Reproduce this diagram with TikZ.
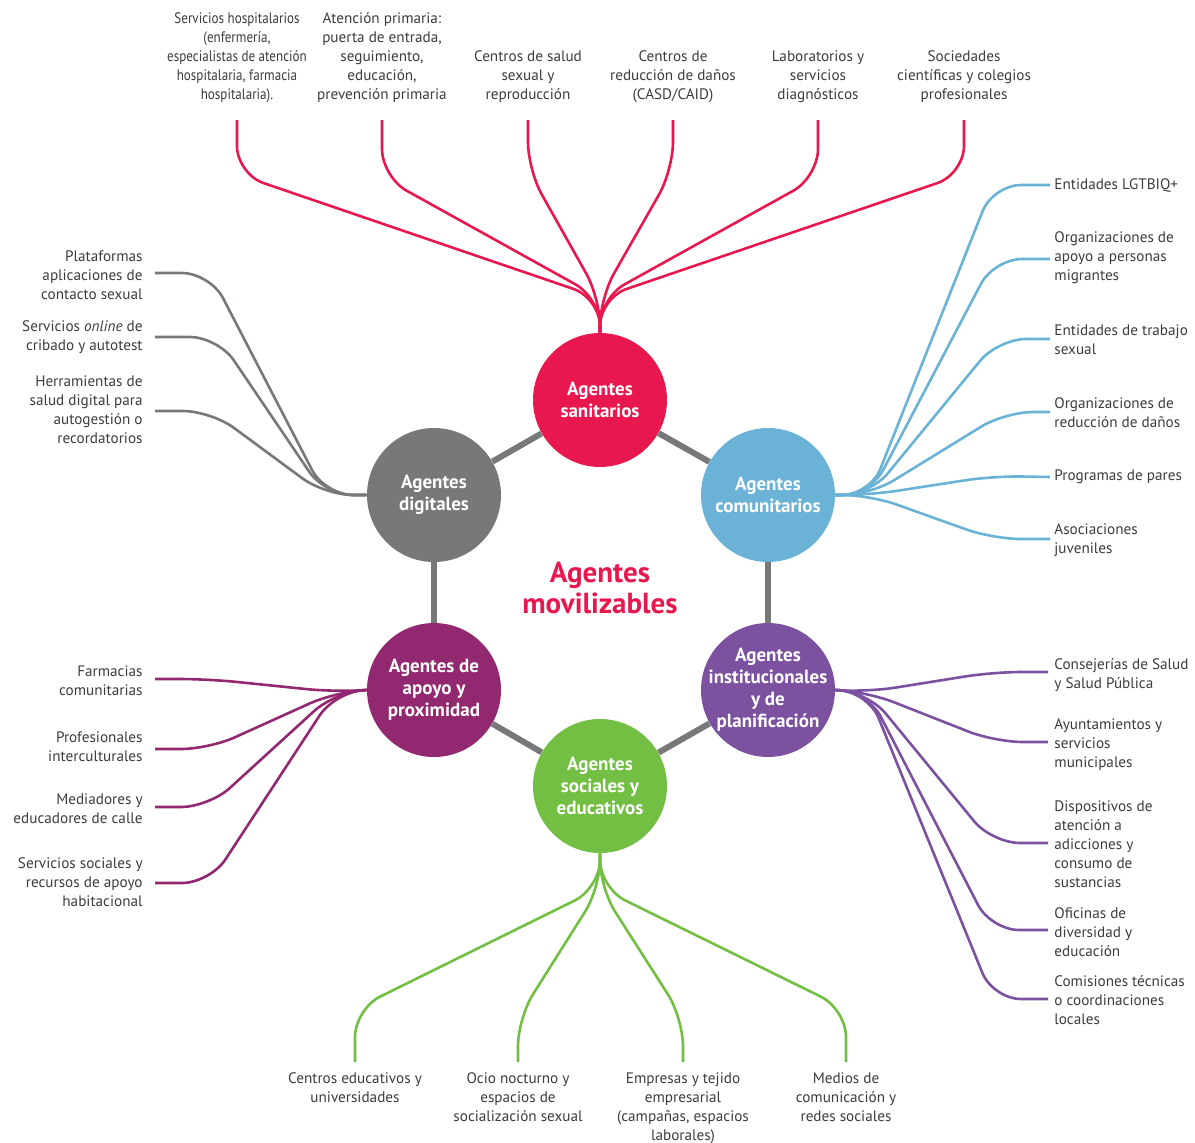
\documentclass[tikz,border=0pt]{standalone}
\usepackage{fontspec}
\setmainfont{PT Sans}
\newfontfamily\narrowfont[FakeStretch=0.86]{PT Sans}
\usetikzlibrary{positioning}
\definecolor{sanred}{HTML}{E8184F}
\definecolor{diggray}{HTML}{76787A}
\definecolor{comblue}{HTML}{6BB3D6}
\definecolor{apomag}{HTML}{92286F}
\definecolor{insviolet}{HTML}{7B51A0}
\definecolor{socgreen}{HTML}{72BF44}
\definecolor{leafgray}{HTML}{3C3C3C}
\tikzset{
  agent/.style={circle,minimum size=67pt,inner sep=-10pt,text=white,align=center,
    font=\fontsize{9.5}{11}\selectfont\bfseries},
  hexline/.style={line width=3pt,diggray},
  branch/.style={line width=1.3pt,rounded corners=14pt},
  leaf/.style={text=leafgray,inner sep=2pt,font=\fontsize{7.6}{9.5}\selectfont},
  leafT/.style={leaf,anchor=south,align=center},
  leafB/.style={leaf,anchor=north,align=center},
  leafL/.style={leaf,anchor=east,align=right},
  leafR/.style={leaf,anchor=west,align=left},
}
\begin{document}
\begin{tikzpicture}[x=0.5pt,y=-0.5pt]
\useasboundingbox (0,0) rectangle (1195,1142);
% agents
\node[agent,fill=sanred] (san) at (600,400) {Agentes\\sanitarios};
\node[agent,fill=diggray] (dig) at (434,495) {Agentes\\digitales};
\node[agent,fill=comblue] (com) at (768,495) {Agentes\\comunitarios};
\node[agent,fill=apomag] (apo) at (434,690) {Agentes de\\apoyo y\\proximidad};
\node[agent,fill=insviolet] (ins) at (768,690) {Agentes\\institucionales\\y de\\planificación};
\node[agent,fill=socgreen] (soc) at (600,786) {Agentes\\sociales y\\educativos};
\node[text=sanred,align=center,font=\fontsize{14.5}{15.5}\selectfont\bfseries] (title) at (600,588) {Agentes\\movilizables};
%
\draw[hexline] (san) -- (dig);
\draw[hexline] (san) -- (com);
\draw[hexline] (dig) -- (apo);
\draw[hexline] (com) -- (ins);
\draw[hexline] (apo) -- (soc);
\draw[hexline] (ins) -- (soc);
% hubs
\coordinate (sanH) at (600,298);
\coordinate (digH) at (325,495);
\coordinate (comH) at (870,495);
\coordinate (apoH) at (335,692);
\coordinate (insH) at (868,692);
\coordinate (socH) at (600,888);
% sanitarios
\node[leafT,font=\fontsize{7.6}{9.5}\narrowfont] (s1) at (237,107) {Servicios hospitalarios\\(enfermería,\\especialistas de atención\\hospitalaria, farmacia\\hospitalaria).};
\node[leafT] (s2) at (382,107) {Atención primaria:\\puerta de entrada,\\seguimiento,\\educación,\\prevención primaria};
\node[leafT] (s3) at (528,107) {Centros de salud\\sexual y\\reproducción};
\node[leafT] (s4) at (673,107) {Centros de\\reducción de daños\\(CASD/CAID)};
\node[leafT] (s5) at (818,107) {Laboratorios y\\servicios\\diagnósticos};
\node[leafT] (s6) at (964,107) {Sociedades\\científicas y colegios\\profesionales};
\coordinate (s1e) at (237,120);
\coordinate (s2e) at (382,120);
\coordinate (s3e) at (528,120);
\coordinate (s4e) at (673,120);
\coordinate (s5e) at (818,120);
\coordinate (s6e) at (964,120);
\draw[branch,sanred] (san.north) -- (sanH) -- (237,174) -- (s1e);
\draw[branch,sanred] (san.north) -- (sanH) -- (382,177) -- (s2e);
\draw[branch,sanred] (san.north) -- (sanH) -- (528,170) -- (s3e);
\draw[branch,sanred] (san.north) -- (sanH) -- (673,170) -- (s4e);
\draw[branch,sanred] (san.north) -- (sanH) -- (818,177) -- (s5e);
\draw[branch,sanred] (san.north) -- (sanH) -- (964,174) -- (s6e);
% comunitarios
\node[leafR] (c1) at (1050,185) {Entidades LGTBIQ+};
\node[leafR] (c2) at (1050,258) {Organizaciones de\\apoyo a personas\\migrantes};
\node[leafR] (c3) at (1050,340) {Entidades de trabajo\\sexual};
\node[leafR] (c4) at (1050,413) {Organizaciones de\\reducción de daños};
\node[leafR] (c5) at (1050,477) {Programas de pares};
\node[leafR] (c6) at (1050,540) {Asociaciones\\juveniles};
\draw[branch,comblue] (com.east) -- (comH) -- (993,185) -- (c1.west);
\draw[branch,comblue] (com.east) -- (comH) -- (994,259) -- (1050,259);
\draw[branch,comblue] (com.east) -- (comH) -- (998,339) -- (1050,339);
\draw[branch,comblue] (com.east) -- (comH) -- (1005,412) -- (1050,412);
\draw[branch,comblue] (com.east) -- (comH) -- (993,476) -- (c5.west);
\draw[branch,comblue] (com.east) -- (comH) -- (993,539) -- (1050,539);
% digitales
\node[leafL] (d1) at (147,275) {Plataformas\\aplicaciones de\\contacto sexual};
\node[leafL] (d2) at (147,337) {Servicios \textit{online} de\\cribado y autotest};
\node[leafL] (d3) at (147,410) {Herramientas de\\salud digital para\\autogestión o\\recordatorios};
\coordinate (d1e) at (155,273);
\coordinate (d2e) at (155,337);
\coordinate (d3e) at (155,411);
\draw[branch,diggray] (dig.west) -- (digH) -- (210,273) -- (d1e);
\draw[branch,diggray] (dig.west) -- (digH) -- (218,337) -- (d2e);
\draw[branch,diggray] (dig.west) -- (digH) -- (211,411) -- (d3e);
% apoyo y proximidad
\node[leafL] (a1) at (147,681) {Farmacias\\comunitarias};
\node[leafL] (a2) at (147,747) {Profesionales\\interculturales};
\node[leafL] (a3) at (147,809) {Mediadores y\\educadores de calle};
\node[leafL] (a4) at (147,882) {Servicios sociales y\\recursos de apoyo\\habitacional};
\coordinate (a1e) at (155,679);
\coordinate (a2e) at (155,749);
\coordinate (a3e) at (155,807);
\coordinate (a4e) at (155,883);
\draw[branch,apomag] (apo.west) -- (apoH) -- (208,679) -- (a1e);
\draw[branch,apomag] (apo.west) -- (apoH) -- (209,749) -- (a2e);
\draw[branch,apomag] (apo.west) -- (apoH) -- (209,807) -- (a3e);
\draw[branch,apomag] (apo.west) -- (apoH) -- (210,883) -- (a4e);
% institucionales
\node[leafR] (i1) at (1050,675) {Consejerías de Salud\\y Salud Pública};
\node[leafR] (i2) at (1050,745) {Ayuntamientos y\\servicios\\municipales};
\node[leafR] (i3) at (1050,844) {Dispositivos de\\atención a\\adicciones y\\consumo de\\sustancias};
\node[leafR] (i4) at (1050,932) {Oficinas de\\diversidad y\\educación};
\node[leafR] (i5) at (1050,1000) {Comisiones técnicas\\o coordinaciones\\locales};
\coordinate (i1e) at (1048,672);
\coordinate (i2e) at (1048,742);
\coordinate (i3e) at (1048,843);
\coordinate (i4e) at (1048,930);
\coordinate (i5e) at (1048,999);
\draw[branch,insviolet] (ins.east) -- (insH) -- (993,672) -- (i1e);
\draw[branch,insviolet] (ins.east) -- (insH) -- (995,742) -- (i2e);
\draw[branch,insviolet] (ins.east) -- (insH) -- (992,843) -- (i3e);
\draw[branch,insviolet] (ins.east) -- (insH) -- (991,930) -- (i4e);
\draw[branch,insviolet] (ins.east) -- (insH) -- (993,999) -- (i5e);
% sociales y educativos
\node[leafB] (e1) at (355,1068) {Centros educativos y\\universidades};
\node[leafB] (e2) at (518,1068) {Ocio nocturno y\\espacios de\\socialización sexual};
\node[leafB] (e3) at (683,1068) {Empresas y tejido\\empresarial\\(campañas, espacios\\laborales)};
\node[leafB] (e4) at (846,1068) {Medios de\\comunicación y\\redes sociales};
\coordinate (e1e) at (355,1062);
\coordinate (e2e) at (518,1062);
\coordinate (e3e) at (683,1062);
\coordinate (e4e) at (846,1062);
\draw[branch,socgreen] (soc.south) -- (socH) -- (355,1009) -- (e1e);
\draw[branch,socgreen] (soc.south) -- (socH) -- (518,1018) -- (e2e);
\draw[branch,socgreen] (soc.south) -- (socH) -- (683,1018) -- (e3e);
\draw[branch,socgreen] (soc.south) -- (socH) -- (846,1009) -- (e4e);
\end{tikzpicture}
\end{document}
